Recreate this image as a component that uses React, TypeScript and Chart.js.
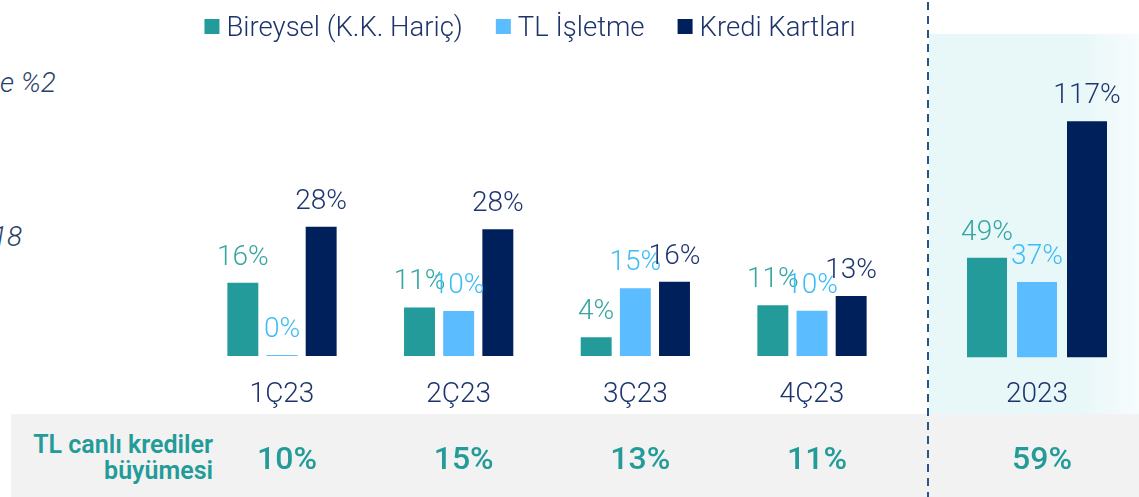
import React, { useEffect, useRef } from "react";
import { Chart, registerables } from "chart.js";

Chart.register(...registerables);

// ---------- data ----------
const quarters = ["1Ç23", "2Ç23", "3Ç23", "4Ç23"];
const yearLabels = ["2023"];
const seriesNames = ["Bireysel (K.K. Hariç)", "TL İşletme", "Kredi Kartları"];
const bireyselQ = [16.0, 10.6, 4.1, 11.1];
const isletmeQ = [0.2, 9.8, 14.8, 9.9];
const kartQ = [28.2, 27.7, 16.2, 13.1];
const bireyselY = [49.4];
const isletmeY = [37.4];
const kartY = [117];
const growthQ = ["10%", "15%", "13%", "11%"];
const growthY = ["59%"];
const rowTitle = ["TL canlı krediler", "büyümesi"];
const sideTexts = ["e %2", "18"];

// ---------- styles ----------
const W = 1139;
const H = 497;
const FONT = "Roboto, 'Noto Sans', sans-serif";
const NAVY_TEXT = "#1c336b";
const TEAL_TEXT = "#239b99";
const barColors = ["#229b9a", "#5bbcff", "#00205b"];
const labelColors = ["#35a6a2", "#3dbdf6", "#1e3670"];

const valueLabelsPlugin = {
  id: "valueLabels",
  afterDatasetsDraw(chart: any) {
    const ctx = chart.ctx;
    ctx.save();
    ctx.font = `300 28px ${FONT}`;
    ctx.textAlign = "center";
    ctx.textBaseline = "alphabetic";
    chart.data.datasets.forEach((ds: any, i: number) => {
      const meta = chart.getDatasetMeta(i);
      meta.data.forEach((bar: any, j: number) => {
        const v = ds.data[j];
        if (v === null || v === undefined) return;
        ctx.fillStyle = labelColors[i];
        ctx.fillText(Math.round(v) + "%", bar.x, bar.y - 18);
      });
    });
    ctx.restore();
  },
};

const growthRowPlugin = {
  id: "growthRow",
  afterDraw(chart: any, _args: any, opts: any) {
    const labels: string[] = opts.labels || [];
    const x = chart.scales.x;
    const ctx = chart.ctx;
    ctx.save();
    ctx.font = `500 32px ${FONT}`;
    ctx.fillStyle = TEAL_TEXT;
    ctx.textAlign = "center";
    ctx.textBaseline = "alphabetic";
    labels.forEach((t, i) => {
      ctx.fillText(t, x.getPixelForValue(i) + (opts.dx || 0), opts.y);
    });
    ctx.restore();
  },
};

const customLegendPlugin = {
  id: "customLegend",
  afterDraw(chart: any, _args: any, opts: any) {
    if (!opts || !opts.show) return;
    const ctx = chart.ctx;
    ctx.save();
    ctx.font = `300 27.5px ${FONT}`;
    ctx.textBaseline = "alphabetic";
    ctx.textAlign = "left";
    const box = 15;
    const gapText = 7;
    const gapItem = 33;
    const items = chart.data.datasets.map((d: any) => ({
      label: d.label,
      color: d.backgroundColor,
      w: ctx.measureText(d.label).width,
    }));
    const total =
      items.reduce((s: number, it: any) => s + box + gapText + it.w, 0) +
      gapItem * (items.length - 1);
    let x = opts.cx - total / 2;
    items.forEach((it: any) => {
      ctx.fillStyle = it.color;
      ctx.fillRect(x, opts.cy - box / 2, box, box);
      ctx.fillStyle = NAVY_TEXT;
      ctx.fillText(it.label, x + box + gapText, opts.cy + 9.5);
      x += box + gapText + it.w + gapItem;
    });
    ctx.restore();
  },
};

function makeConfig(
  labels: string[],
  data: number[][],
  geom: any,
  growth: string[],
  showLegend: boolean
): any {
  return {
    type: "bar",
    data: {
      labels,
      datasets: data.map((d, i) => ({
        label: seriesNames[i],
        data: d,
        backgroundColor: barColors[i],
        borderWidth: 0,
      })),
    },
    options: {
      animation: false,
      responsive: false,
      layout: { padding: geom.padding },
      datasets: {
        bar: {
          categoryPercentage: geom.catPct,
          barPercentage: geom.barPct,
        },
      },
      scales: {
        x: {
          grid: { display: false, drawTicks: false },
          border: { display: false },
          ticks: {
            color: NAVY_TEXT,
            font: { family: FONT, size: 28, weight: "300" },
            padding: geom.tickPad,
          },
        },
        y: { display: false, min: 0, max: geom.yMax },
      },
      plugins: {
        legend: { display: false },
        tooltip: { enabled: false },
        growthRow: { labels: growth, dx: 5, y: 469 },
        customLegend: { show: showLegend, cx: 530, cy: 26.5 },
      },
    },
    plugins: [valueLabelsPlugin, growthRowPlugin, customLegendPlugin],
  };
}

function ChartCanvas({ config }: { config: () => any }) {
  const ref = useRef<HTMLCanvasElement | null>(null);
  useEffect(() => {
    if (!ref.current) return;
    const chart = new Chart(ref.current, config());
    return () => chart.destroy();
  }, []);
  return (
    <canvas
      ref={ref}
      width={W}
      height={H}
      style={{ position: "absolute", left: 0, top: 0, width: W, height: H }}
    />
  );
}

export default function App() {
  // axis height = lineHeight(28*1.2) + 2*padding; chart bottom = H - padBottom - axisHeight
  const qConfig = () =>
    makeConfig(
      quarters,
      [bireyselQ, isletmeQ, kartQ],
      {
        padding: { left: 193.67, right: 238.67, top: 172.8, bottom: 63.4 },
        catPct: 0.665,
        barPct: 0.79,
        tickPad: 22,
        yMax: 40,
      },
      growthQ,
      true
    );
  const yConfig = () =>
    makeConfig(
      yearLabels,
      [bireyselY, isletmeY, kartY],
      {
        padding: { left: 937, right: 2, top: 74.7, bottom: 64.9 },
        catPct: 0.75,
        barPct: 0.8,
        tickPad: 20.5,
        yMax: 140,
      },
      growthY,
      false
    );

  return (
    <div
      style={{
        position: "fixed",
        left: 0,
        top: 0,
        width: W,
        height: H,
        overflow: "hidden",
        background: "#ffffff",
        fontFamily: FONT,
      }}
    >
      {/* highlighted annual panel */}
      <div
        style={{
          position: "absolute",
          left: 929,
          top: 34,
          width: 210,
          height: 380,
          background:
            "linear-gradient(to right, #e8f7f8 0%, #e8f7f8 72%, #f7fcfd 100%)",
        }}
      />
      {/* bottom grey band */}
      <div
        style={{
          position: "absolute",
          left: 11,
          top: 414,
          width: W - 11,
          height: H - 414,
          background: "#f2f2f2",
        }}
      />
      {/* dashed separator */}
      <div
        style={{
          position: "absolute",
          left: 926.5,
          top: 2,
          width: 2,
          height: H,
          background:
            "repeating-linear-gradient(to bottom, #24568c 0px, #24568c 8px, transparent 8px, transparent 14px)",
        }}
      />
      {/* left cropped side texts */}
      <div
        style={{
          position: "absolute",
          left: 0,
          top: 69.4,
          fontSize: 28,
          lineHeight: "28px",
          fontStyle: "italic",
          fontWeight: 300,
          color: "#2b3f6b",
          whiteSpace: "nowrap",
        }}
      >
        {sideTexts[0]}
      </div>
      <div
        style={{
          position: "absolute",
          left: -8,
          top: 223.4,
          fontSize: 28,
          lineHeight: "28px",
          fontStyle: "italic",
          fontWeight: 300,
          color: "#2b3f6b",
          whiteSpace: "nowrap",
        }}
      >
        {sideTexts[1]}
      </div>
      {/* row title */}
      <div
        style={{
          position: "absolute",
          left: 0,
          top: 431.5,
          width: 213,
          textAlign: "right",
          fontSize: 25,
          lineHeight: "26px",
          fontWeight: 600,
          color: TEAL_TEXT,
          whiteSpace: "nowrap",
        }}
      >
        {rowTitle[0]}
        <br />
        {rowTitle[1]}
      </div>
      <ChartCanvas config={qConfig} />
      <ChartCanvas config={yConfig} />
    </div>
  );
}
